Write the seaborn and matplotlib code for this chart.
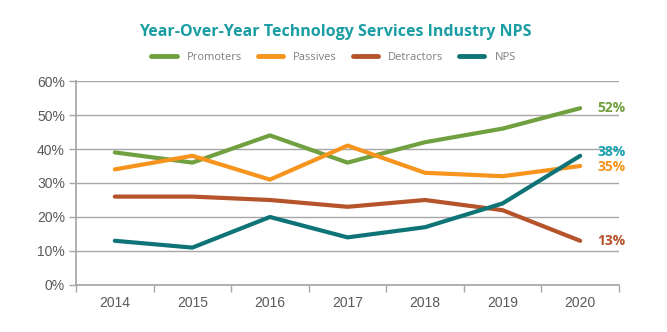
import matplotlib
matplotlib.use("Agg")
import matplotlib.pyplot as plt
import seaborn as sns
import pandas as pd
import numpy as np
from matplotlib.lines import Line2D

years = ["2014", "2015", "2016", "2017", "2018", "2019", "2020"]
promoters = [39, 36, 44, 36, 42, 46, 52]
passives = [34, 38, 31, 41, 33, 32, 35]
detractors = [26, 26, 25, 23, 25, 22, 13]
nps = [13, 11, 20, 14, 17, 24, 38]

series_names = ["Promoters", "Passives", "Detractors", "NPS"]
series_vals = [promoters, passives, detractors, nps]
colors = ["#70a03f", "#f7941d", "#b5532a", "#0f7478"]
label_colors = ["#70a03f", "#f7941d", "#b5532a", "#1aa3b0"]

rows = []
for name, vals in zip(series_names, series_vals):
    for y, v in zip(years, vals):
        rows.append({"Year": y, "Value": v, "Series": name})
df = pd.DataFrame(rows)

sns.set_theme(style="white")
plt.rcParams["font.family"] = ["Liberation Sans", "DejaVu Sans"]

fig = plt.figure(figsize=(6.67, 3.32), dpi=100)
ax = fig.add_axes([0.114, 0.1416, 0.814, 0.6144])

sns.lineplot(data=df, x="Year", y="Value", hue="Series", hue_order=series_names,
             palette=colors, linewidth=3, ax=ax, legend=False, sort=False)

ax.set_xlim(-0.5, 6.5)
ax.set_ylim(0, 60)
ax.set_yticks(range(0, 61, 10))
ax.set_yticklabels([f"{v}%" for v in range(0, 61, 10)])
ax.set_xticks(range(len(years)))
ax.set_xticklabels(years)
ax.set_xticks(np.arange(-0.5, 7, 1), minor=True)
ax.tick_params(axis="x", which="major", length=0, pad=8, labelsize=10, labelcolor="#595959")
ax.tick_params(axis="x", which="minor", length=5, width=1, color="#a6a6a6", direction="out", bottom=True)
ax.tick_params(axis="y", length=5, width=1, color="#a6a6a6", direction="out", left=True, labelsize=10, labelcolor="#595959", pad=3)
ax.grid(axis="y", color="#a6a6a6", linewidth=1)
ax.set_axisbelow(True)
for s in ["top", "right"]:
    ax.spines[s].set_visible(False)
ax.spines["left"].set_color("#a6a6a6")
ax.spines["bottom"].set_color("#a6a6a6")
ax.set_xlabel("")
ax.set_ylabel("")

# end labels
offsets = {"Promoters": 0, "Passives": -0.3, "Detractors": 0, "NPS": 1.2}
for name, vals, c in zip(series_names, series_vals, label_colors):
    ax.text(6.22, vals[-1] + offsets[name], f"{vals[-1]}%", color=c, fontsize=10,
            fontweight="bold", va="center", ha="left", family=["Open Sans", "DejaVu Sans"])

fig.text(0.503, 0.905, "Year-Over-Year Technology Services Industry NPS", ha="center", va="center",
         fontsize=11.5, fontweight="bold", color="#1a9da3", family=["Open Sans", "DejaVu Sans"])

handles = [Line2D([0], [0], color=c, lw=3.5, solid_capstyle="round") for c in colors]
leg = fig.legend(handles, series_names, loc="center", bbox_to_anchor=(0.5, 0.828), ncol=4,
                 frameon=False, fontsize=8, handlelength=2.3, columnspacing=1.4, handletextpad=0.9)
for t in leg.get_texts():
    t.set_color("#7f7f7f")
    t.set_family(["Open Sans", "DejaVu Sans"])

fig.savefig("out.png", dpi=100)
